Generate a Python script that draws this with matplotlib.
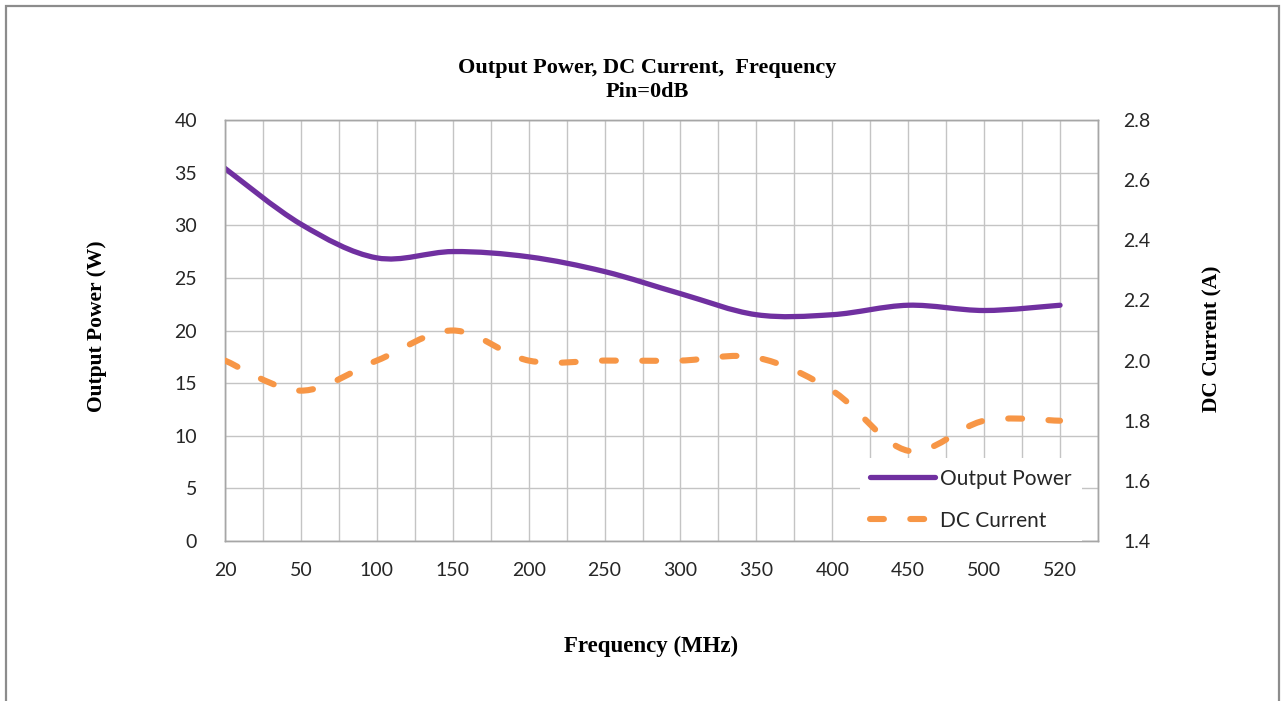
import matplotlib
matplotlib.use("Agg")
import matplotlib.pyplot as plt
import numpy as np
from matplotlib.path import Path
from matplotlib.patches import PathPatch, Rectangle
from matplotlib.lines import Line2D

# ---- data ----
freq_labels = ["20", "50", "100", "150", "200", "250", "300", "350", "400", "450", "500", "520"]
output_power = [35.4, 30.1, 26.9, 27.5, 27.0, 25.6, 23.5, 21.5, 21.5, 22.4, 21.9, 22.4]
dc_current = [2.00, 1.90, 2.00, 2.10, 2.00, 2.00, 2.00, 2.01, 1.90, 1.70, 1.80, 1.80]
n_categories = 24  # category slots on the axis (labels on every other slot)

title_line1 = "Output Power, DC Current,  Frequency"
title_line2 = "Pin=0dB"
xlabel = "Frequency (MHz)"
ylabel_left = "Output Power (W)"
ylabel_right = "DC Current (A)"

PURPLE = "#7030A0"
ORANGE = "#F79646"
GRID = "#c4c4c4"
TXT = "#262626"
SERIF = ["Liberation Serif", "DejaVu Serif"]
SANS = ["Lato", "DejaVu Sans"]

plt.rcParams["lines.scale_dashes"] = False

W, H, DPI = 1282, 701, 100
fig = plt.figure(figsize=(W / DPI, H / DPI), dpi=DPI)
ax = fig.add_axes([225 / W, 1 - 541 / H, (1098 - 225) / W, (541 - 120) / H])
ax2 = ax.twinx()

xpos = np.arange(len(freq_labels)) * 2.0


def smooth_path(xs, ys):
    """Excel-style smoothed line: cubic Bezier segments (Catmull-Rom controls)."""
    pts = np.column_stack([np.asarray(xs, float), np.asarray(ys, float)])
    verts = [pts[0]]
    codes = [Path.MOVETO]
    n = len(pts)
    for i in range(n - 1):
        p0 = pts[i - 1] if i > 0 else pts[i]
        p1 = pts[i]
        p2 = pts[i + 1]
        p3 = pts[i + 2] if i + 2 < n else pts[i + 1]
        verts += [p1 + (p2 - p0) / 6.0, p2 - (p3 - p1) / 6.0, p2]
        codes += [Path.CURVE4] * 3
    return Path(verts, codes)


DASH = (0, (10, 19))
ax.add_patch(PathPatch(smooth_path(xpos, output_power), fill=False, edgecolor=PURPLE,
                       lw=3.8, capstyle="round", joinstyle="round", zorder=3))
ax2.add_patch(PathPatch(smooth_path(xpos, dc_current), fill=False, edgecolor=ORANGE,
                        lw=4.4, capstyle="round", joinstyle="round",
                        linestyle=DASH, zorder=3))

ax.set_xlim(0, n_categories - 1)
ax.set_ylim(0, 40)
ax2.set_ylim(1.4, 2.8)

ax.set_xticks(xpos)
ax.set_xticklabels(freq_labels)
ax.set_xticks(np.arange(0, n_categories), minor=True)
ax.set_yticks(np.arange(0, 41, 5))
right_ticks = np.arange(1.4, 2.81, 0.2)
ax2.set_yticks(right_ticks)
ax2.set_yticklabels([f"{v:.1f}" for v in right_ticks])

ax.grid(True, which="both", axis="x", color=GRID, lw=1.0)
ax.grid(True, which="major", axis="y", color=GRID, lw=1.0)
ax.set_axisbelow(True)

for a in (ax, ax2):
    for s in a.spines.values():
        s.set_color("#a6a6a6")
        s.set_linewidth(1.0)
    a.tick_params(which="both", length=0)

ax.tick_params(axis="x", pad=15, labelsize=14, labelcolor=TXT)
ax.tick_params(axis="y", pad=20, labelsize=14, labelcolor=TXT)
ax2.tick_params(axis="y", pad=18, labelsize=14, labelcolor=TXT)
for lab in ax.get_xticklabels() + ax.get_yticklabels() + ax2.get_yticklabels():
    lab.set_family(SANS)

# titles / labels
fig.text(647 / W, 1 - 68 / H, title_line1, ha="center", va="center", family=SERIF,
         fontweight="bold", fontsize=16, color="black")
fig.text(647 / W, 1 - 92 / H, title_line2, ha="center", va="center", family=SERIF,
         fontweight="bold", fontsize=16, color="black")
fig.text(651 / W, 1 - 646 / H, xlabel, ha="center", va="center", family=SERIF,
         fontweight="bold", fontsize=16.5, color="black")
fig.text(97 / W, 1 - 326 / H, ylabel_left, ha="center", va="center", rotation=90,
         family=SERIF, fontweight="bold", fontsize=15.5, color="black")
fig.text(1212 / W, 1 - 339 / H, ylabel_right, ha="center", va="center", rotation=90,
         family=SERIF, fontweight="bold", fontsize=15.5, color="black")

# legend
handles = [Line2D([], [], color=PURPLE, lw=3.8, solid_capstyle="round"),
           Line2D([], [], color=ORANGE, lw=4.4, dash_capstyle="round", linestyle=DASH)]
leg = ax2.legend(handles, ["Output Power", "DC Current"], loc="lower right",
                 bbox_to_anchor=(1082 / W, 1 - 541 / H), bbox_transform=fig.transFigure,
                 frameon=True, fancybox=False, framealpha=1.0, edgecolor="none",
                 facecolor="white", prop={"family": SANS, "size": 15},
                 handlelength=3.1, handletextpad=0.25, labelspacing=1.05,
                 borderpad=0.5, borderaxespad=0)
for t in leg.get_texts():
    t.set_color(TXT)
leg.set_zorder(10)

# outer chart border
fig.patches.append(Rectangle((6 / W, -0.05), (1279 - 6) / W, 1.05 - 6 / H,
                             transform=fig.transFigure, fill=False,
                             edgecolor="#8c8c8c", lw=1.6))

fig.savefig("out.png", dpi=DPI)
